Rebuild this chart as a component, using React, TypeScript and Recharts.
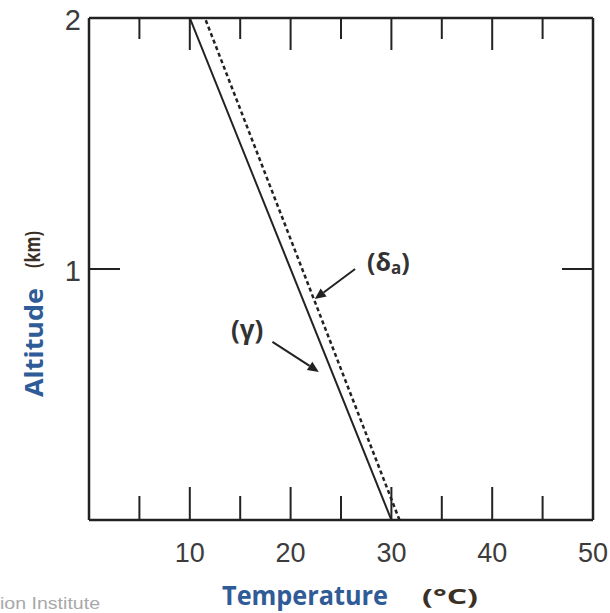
import React from "react";
import {
  LineChart, Line, XAxis, YAxis, ReferenceLine, ReferenceDot,
} from "recharts";

// altitude (km) vs temperature (°C)
const envLapse = [
  { t: 30, alt: 0 },
  { t: 10, alt: 2 },
];
const dryAdiabat = [
  { t: 30.8, alt: 0 },
  { t: 11.5, alt: 2 },
];

const xTicks = [0, 5, 10, 15, 20, 25, 30, 35, 40, 45, 50];
const xLabelled = [10, 20, 30, 40, 50];
const yTicks = [0, 1, 2];
const yLabelled = [1, 2];

// annotation arrows: [from, to] in data units
const gammaArrow = [{ x: 18.2, y: 0.71 }, { x: 22.8, y: 0.59 }];
const deltaArrow = [{ x: 26.4, y: 1.0 }, { x: 22.4, y: 0.88 }];
const gammaLabel = { x: 15.7, y: 0.76 };
const deltaLabel = { x: 29.7, y: 1.03 };

const INK = "#222";
const TICK_TXT = "#3c3c3c";
const BLUE = "#2f5b97";
const BROWN = "#3b3026";

function BottomTick({ x, y, payload }: any) {
  const v = payload.value;
  const major = v % 10 === 0;
  return (
    <g>
      {v > 0 && v < 50 && (
        <line x1={x} x2={x} y1={y} y2={y - (major ? 33 : 24)} stroke={INK} strokeWidth={2} />
      )}
      {xLabelled.includes(v) && (
        <text x={x} y={y + 42} textAnchor="middle" fontSize={27} fill={TICK_TXT}
          fontFamily="Liberation Sans, Arial, sans-serif">{v}</text>
      )}
    </g>
  );
}

function TopTick({ x, y, payload }: any) {
  const v = payload.value;
  const major = v % 10 === 0;
  if (v <= 0 || v >= 50) return <g />;
  return <line x1={x} x2={x} y1={y} y2={y + (major ? 32 : 21)} stroke={INK} strokeWidth={2} />;
}

function LeftTick({ x, y, payload }: any) {
  const v = payload.value;
  return (
    <g>
      {v === 1 && <line x1={x} x2={x + 31} y1={y} y2={y} stroke={INK} strokeWidth={2} />}
      {yLabelled.includes(v) && (
        <text x={x - 8} y={y + 12} textAnchor="end" fontSize={29} fill={TICK_TXT}
          fontFamily="Liberation Sans, Arial, sans-serif">{v}</text>
      )}
    </g>
  );
}

function RightTick({ x, y, payload }: any) {
  if (payload.value !== 1) return <g />;
  return <line x1={x} x2={x - 31} y1={y} y2={y} stroke={INK} strokeWidth={2} />;
}

function Arrow(props: any) {
  const { x1, y1, x2, y2 } = props;
  const a = Math.atan2(y2 - y1, x2 - x1);
  const L = 11, W = 5;
  const bx = x2 - L * Math.cos(a), by = y2 - L * Math.sin(a);
  const px = -Math.sin(a) * W, py = Math.cos(a) * W;
  return (
    <g>
      <line x1={x1} y1={y1} x2={bx} y2={by} stroke={INK} strokeWidth={2} />
      <polygon points={`${x2},${y2} ${bx + px},${by + py} ${bx - px},${by - py}`} fill={INK} />
    </g>
  );
}

const annFont = "Open Sans, DejaVu Sans, sans-serif";
const axisLine = { stroke: INK, strokeWidth: 2.5 };

export default function App() {
  return (
    <div style={{ position: "absolute", left: 0, top: 0, width: 610, height: 613, background: "#fff" }}>
      <LineChart width={610} height={613} margin={{ top: 17, right: 16, bottom: 53, left: 59 }}>
        <XAxis xAxisId="b" type="number" dataKey="t" domain={[0, 50]} ticks={xTicks}
          height={40} tickSize={0} tickMargin={0} tick={<BottomTick />} tickLine={false}
          axisLine={axisLine} allowDataOverflow />
        <XAxis xAxisId="t" orientation="top" type="number" dataKey="t" domain={[0, 50]} ticks={xTicks}
          height={1} tickSize={0} tickMargin={0} tick={<TopTick />} tickLine={false}
          axisLine={axisLine} allowDataOverflow />
        <YAxis yAxisId="l" type="number" domain={[0, 2]} ticks={yTicks} width={30}
          tickSize={0} tickMargin={0} tick={<LeftTick />} tickLine={false}
          axisLine={axisLine} allowDataOverflow />
        <YAxis yAxisId="r" orientation="right" type="number" domain={[0, 2]} ticks={yTicks} width={1}
          tickSize={0} tickMargin={0} tick={<RightTick />} tickLine={false}
          axisLine={axisLine} allowDataOverflow />

        <Line xAxisId="b" yAxisId="l" data={envLapse} dataKey="alt" stroke={INK} strokeWidth={2}
          dot={false} isAnimationActive={false} />
        <Line xAxisId="b" yAxisId="l" data={dryAdiabat} dataKey="alt" stroke={INK} strokeWidth={2.5}
          strokeDasharray="4 3" dot={false} isAnimationActive={false} />

        <ReferenceLine xAxisId="b" yAxisId="l" segment={gammaArrow} shape={(p: any) => <Arrow {...p} />} />
        <ReferenceLine xAxisId="b" yAxisId="l" segment={deltaArrow} shape={(p: any) => <Arrow {...p} />} />

        <ReferenceDot xAxisId="b" yAxisId="l" x={gammaLabel.x} y={gammaLabel.y} r={0}
          shape={(p: any) => (
            <text x={p.cx} y={p.cy} textAnchor="middle" dominantBaseline="central"
              fontSize={26} fontWeight="bold" fill="#333" fontFamily={annFont}>(γ)</text>
          )} />
        <ReferenceDot xAxisId="b" yAxisId="l" x={deltaLabel.x} y={deltaLabel.y} r={0}
          shape={(p: any) => (
            <text x={p.cx} y={p.cy} textAnchor="middle" dominantBaseline="central"
              fontSize={25} fontWeight="bold" fill="#333" fontFamily={annFont}>
              (δ<tspan fontSize={17} dy={6}>a</tspan><tspan dy={-6}>)</tspan>
            </text>
          )} />
      </LineChart>

      <svg width={610} height={613} style={{ position: "absolute", left: 0, top: 0, pointerEvents: "none" }}>
        <text x={222} y={605} fontSize={26} fontWeight="bold" fill={BLUE} fontFamily={annFont}
          textLength={166} lengthAdjust="spacingAndGlyphs">Temperature</text>
        <text x={422} y={604} fontSize={22} fontWeight="bold" fill={BROWN} fontFamily={annFont}
          textLength={56} lengthAdjust="spacingAndGlyphs">(°C)</text>
        <text transform="translate(43,397) rotate(-90)" fontSize={25} fontWeight="bold" fill={BLUE}
          fontFamily={annFont} textLength={109} lengthAdjust="spacingAndGlyphs">Altitude</text>
        <text transform="translate(40,268) rotate(-90)" fontSize={21} fontWeight="bold" fill={BROWN}
          fontFamily={annFont} textLength={37} lengthAdjust="spacingAndGlyphs">(km)</text>
        <text x={0} y={609} fontSize={16} fill="#a8a8a8" fontFamily="Liberation Sans Narrow, Liberation Sans, sans-serif"
          textLength={100} lengthAdjust="spacingAndGlyphs">ion Institute</text>
      </svg>
    </div>
  );
}
